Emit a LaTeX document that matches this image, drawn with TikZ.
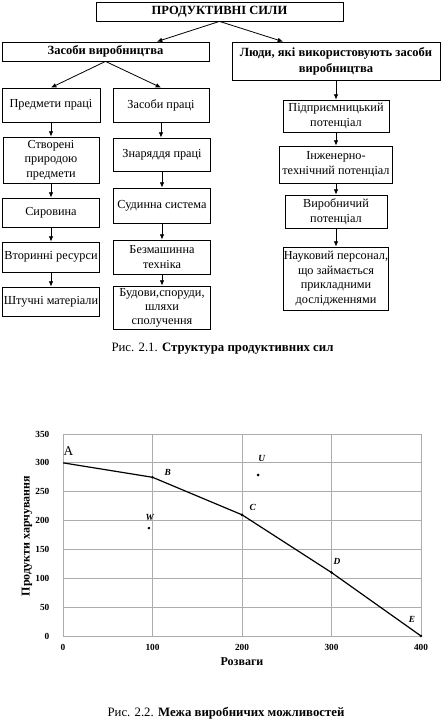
\documentclass[tikz,border=0pt]{standalone}
\usepackage{fontspec}
\setmainfont{Liberation Serif}
\usetikzlibrary{positioning, arrows.meta, calc}

\tikzset{
    box/.style={draw, line width=0.6pt, align=center, inner sep=0.3pt, font=\fontsize{9.2}{11}\selectfont},
    boldbox/.style={box, font=\fontsize{9.4}{12}\selectfont\bfseries},
    wh/.style 2 args={minimum width=#1*0.75pt, minimum height=#2*0.75pt},
    arr/.style={-{Latex[length=4pt, width=3.5pt]}, line width=0.6pt},
    gridline/.style={gray!65, line width=0.7pt},
    ticklbl/.style={font=\fontsize{7}{8}\selectfont\bfseries},
    ptlbl/.style={font=\fontsize{7}{8}\selectfont\bfseries\itshape},
    axlbl/.style={font=\fontsize{9}{10}\selectfont\bfseries},
}

\begin{document}
\begin{tikzpicture}[x=0.75pt, y=-0.75pt]
    \useasboundingbox (0,0) rectangle (446,728);

    % Top level
    \node[boldbox, wh={247}{19}] (ps) at (219.5,11.5) {ПРОДУКТИВНІ СИЛИ};
    \node[boldbox, wh={207}{19}] (zv) at (105.5,51.5) {Засоби виробництва};
    \node[boldbox, wh={208}{38}] (ludy) at (336,61) {Люди, які використовують засоби\\виробництва};

    % Left column
    \node[box, wh={98}{34}] (pp) at (51,105) {Предмети праці};
    \node[box, wh={96}{46}] (a1) at (51,160) {Створені\\природою\\предмети};
    \node[box, wh={97}{29}] (a2) at (51,212.5) {Сировина};
    \node[box, wh={97}{30}] (a3) at (51,257) {Вторинні ресурси};
    \node[box, wh={97}{29}] (a4) at (51,301.5) {Штучні матеріали};

    % Middle column
    \node[box, wh={96}{34}] (zp) at (161,105) {Засоби праці};
    \node[box, wh={97}{33}] (b1) at (162,154.5) {Знаряддя праці};
    \node[box, wh={97}{35}] (b2) at (162,205.5) {Судинна система};
    \node[box, wh={97}{34}] (b3) at (162,257) {Безмашинна\\техніка};
    \node[box, wh={97}{43}, font=\fontsize{9.2}{10.4}\selectfont] (b4) at (162,307.5) {Будови,споруди,\\шляхи\\сполучення};

    % Right column
    \node[box, wh={106}{32}] (c1) at (336,116) {Підприємницький\\потенціал};
    \node[box, wh={113}{37}] (c2) at (336,164.5) {Інженерно-\\технічний потенціал};
    \node[box, wh={102}{33}] (c3) at (336,211.5) {Виробничий\\потенціал};
    \node[box, wh={102}{63}] (c4) at (336,278.5) {Науковий персонал,\\що займається\\прикладними\\дослідженнями};

    % Arrows
    \draw[arr] (ps.south) -- ([xshift=38.6pt]zv.north);
    \draw[arr] (ps.south) -- ([xshift=-39.75pt]ludy.north);
    \draw[arr] (zv.south) -- (pp.north);
    \draw[arr] (zv.south) -- (zp.north);
    \draw[arr] (pp) -- (a1);
    \draw[arr] (a1) -- (a2);
    \draw[arr] (a2) -- (a3);
    \draw[arr] (a3) -- (a4);
    \draw[arr] (zp.south) -- (zp.south |- b1.north);
    \draw[arr] (b1) -- (b2);
    \draw[arr] (b2) -- (b3);
    \draw[arr] (b3) -- (b4);
    \draw[arr] (ludy) -- (c1);
    \draw[arr] (c1) -- (c2);
    \draw[arr] (c2) -- (c3);
    \draw[arr] (c3) -- (c4);

    % Caption 1
    \node[font=\fontsize{9.6}{12}\selectfont] (cap1) at (222.5,349) {Рис. 2.1. \textbf{Структура продуктивних сил}};

    % Chart
    \begin{scope}[shift={(63,636)}, x=0.67125pt, y=0.4329pt]
        \foreach \yy in {0,50,...,350} {
            \draw[gridline] (0,\yy) -- (400,\yy);
            \node[ticklbl, anchor=east] (yl\yy) at (-10,\yy) {\yy};
        }
        \foreach \xx in {0,100,...,400} {
            \draw[gridline] (\xx,0) -- (\xx,350);
            \node[ticklbl] (xl\xx) at (\xx,-19) {\xx};
        }

        % Frontier
        \coordinate (A) at (0,300);
        \coordinate (B) at (100,275);
        \coordinate (C) at (200,210);
        \coordinate (D) at (300,110);
        \coordinate (E) at (400,0);
        \coordinate (U) at (218,279);
        \coordinate (W) at (96,187);
        \draw[line width=0.9pt] (A) -- (B) -- (C) -- (D) -- (E);
        \foreach \p in {B,C,D,E,U,W}
            \fill (\p) circle (1.1pt);

        \node[font=\fontsize{10}{12}\selectfont] (lA) at (6,321) {A};
        \node[ptlbl] (lB) at (117,283) {B};
        \node[ptlbl] (lC) at (212,222) {C};
        \node[ptlbl] (lD) at (306,130) {D};
        \node[ptlbl] (lE) at (390,28) {E};
        \node[ptlbl] (lU) at (222,308) {U};
        \node[ptlbl] (lW) at (97,206) {W};

        \node[axlbl] (xlab) at (200,-44) {Розваги};
    \end{scope}
    \node[axlbl, rotate=90] (ylab) at (27,536) {Продукти харчування};

    % Caption 2
    \node[font=\fontsize{9.6}{12}\selectfont] (cap2) at (226,713) {Рис. 2.2. \textbf{Межа виробничих можливостей}};
\end{tikzpicture}
\end{document}
